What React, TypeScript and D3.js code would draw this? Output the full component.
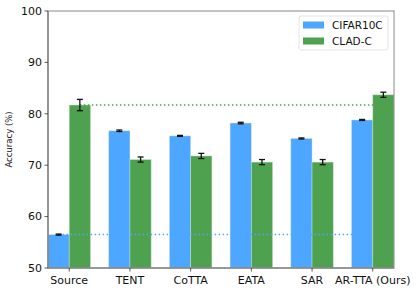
import React from "react";
import * as d3 from "d3";

const methods = ["Source", "TENT", "CoTTA", "EATA", "SAR", "AR-TTA (Ours)"];
const cifarAcc = [56.5, 76.7, 75.7, 78.2, 75.2, 78.8];
const cifarErr = [0.1, 0.15, 0.1, 0.15, 0.1, 0.1];
const cladAcc = [81.7, 71.1, 71.8, 70.6, 70.6, 83.7];
const cladErr = [1.1, 0.5, 0.5, 0.5, 0.5, 0.5];
const seriesNames = ["CIFAR10C", "CLAD-C"];
const yTicks = [50, 60, 70, 80, 90, 100];

const BLUE = "#4da6ff";
const GREEN = "#4ea14e";
const W = 416;
const H = 293;
const margin = { top: 11, right: 22, bottom: 25, left: 48 };
const barW = 0.35;

const App = () => {
  const x = d3
    .scaleLinear()
    .domain([-barW, methods.length - 1 + barW])
    .range([margin.left, W - margin.right]);
  const y = d3
    .scaleLinear()
    .domain([50, 100])
    .range([H - margin.bottom, margin.top]);

  const series = [
    { name: seriesNames[0], vals: cifarAcc, errs: cifarErr, color: BLUE, off: -barW / 2 },
    { name: seriesNames[1], vals: cladAcc, errs: cladErr, color: GREEN, off: barW / 2 },
  ];
  const font = "DejaVu Sans, sans-serif";

  return (
    <svg width={W} height={H} style={{ position: "absolute", left: 0, top: 0 }}>
      <rect width={W} height={H} fill="white" />
      {series.map((s) =>
        s.vals.map((v, i) => (
          <rect
            key={s.name + i}
            x={x(i + s.off - barW / 2)}
            y={y(v)}
            width={x(barW) - x(0)}
            height={y(50) - y(v)}
            fill={s.color}
            stroke="#d8ecd8"
            strokeOpacity={0.5}
            strokeWidth={0.8}
          />
        ))
      )}
      {/* baseline reference lines */}
      <line
        x1={x(-barW / 2)}
        x2={x(methods.length - 1 - barW / 2)}
        y1={y(cifarAcc[0])}
        y2={y(cifarAcc[0])}
        stroke={BLUE}
        strokeWidth={1.5}
        strokeDasharray="1.5,2.5"
      />
      <line
        x1={x(barW / 2)}
        x2={x(methods.length - 1 + barW / 2)}
        y1={y(cladAcc[0])}
        y2={y(cladAcc[0])}
        stroke={GREEN}
        strokeWidth={1.5}
        strokeDasharray="1.5,2.5"
      />
      {series.map((s) =>
        s.vals.map((v, i) => {
          const cx = x(i + s.off);
          const e = s.errs[i];
          return (
            <g key={"e" + s.name + i} stroke="#111" strokeWidth={1.3}>
              <line x1={cx} x2={cx} y1={y(v - e)} y2={y(v + e)} />
              <line x1={cx - 3} x2={cx + 3} y1={y(v - e)} y2={y(v - e)} />
              <line x1={cx - 3} x2={cx + 3} y1={y(v + e)} y2={y(v + e)} />
            </g>
          );
        })
      )}
      {/* axes frame */}
      <rect
        x={margin.left}
        y={margin.top}
        width={W - margin.left - margin.right}
        height={H - margin.top - margin.bottom}
        fill="none"
        stroke="#888"
        strokeWidth={1}
      />
      <line
        x1={margin.left}
        x2={margin.left}
        y1={margin.top}
        y2={H - margin.bottom}
        stroke="#888"
        strokeWidth={1.6}
      />
      <line
        x1={margin.left}
        x2={W - margin.right}
        y1={H - margin.bottom}
        y2={H - margin.bottom}
        stroke="#888"
        strokeWidth={1.6}
      />
      {yTicks.map((t) => (
        <g key={t}>
          <line x1={margin.left - 3.5} x2={margin.left} y1={y(t)} y2={y(t)} stroke="#333" strokeWidth={0.8} />
          <text
            x={margin.left - 6}
            y={y(t)}
            dy="0.35em"
            textAnchor="end"
            fontFamily={font}
            fontSize={11}
            fill="#111"
          >
            {t}
          </text>
        </g>
      ))}
      {methods.map((m, i) => (
        <g key={m}>
          <line x1={x(i)} x2={x(i)} y1={H - margin.bottom} y2={H - margin.bottom + 3.5} stroke="#333" strokeWidth={0.8} />
          <text
            x={x(i)}
            y={H - margin.bottom + 16}
            textAnchor="middle"
            fontFamily={font}
            fontSize={11}
            fill="#111"
          >
            {m}
          </text>
        </g>
      ))}
      <text
        transform={`translate(12,${(margin.top + H - margin.bottom) / 2}) rotate(-90)`}
        textAnchor="middle"
        fontFamily={font}
        fontSize={8.5}
        fill="#111"
      >
        Accuracy (%)
      </text>
      {/* legend */}
      <g>
        <rect x={299} y={16} width={89} height={34} rx={2} fill="white" stroke="#ddd" strokeWidth={0.8} />
        {series.map((s, i) => (
          <g key={"l" + s.name}>
            <rect x={303} y={21.5 + i * 16} width={21} height={7} fill={s.color} />
            <text x={332} y={25 + i * 16} dy="0.35em" fontFamily={font} fontSize={10.5} fill="#111">
              {s.name}
            </text>
          </g>
        ))}
      </g>
    </svg>
  );
};

export default App;
